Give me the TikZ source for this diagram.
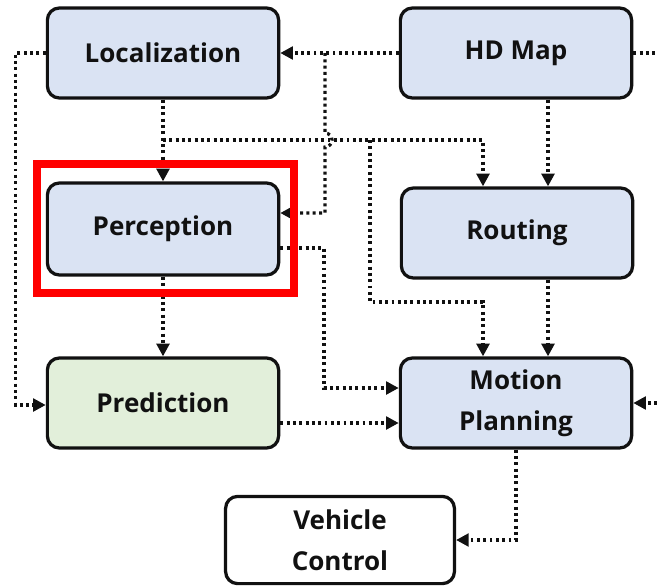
\documentclass[tikz,border=0pt]{standalone}
\usepackage{fontspec}
\setmainfont{Open Sans}
\usepackage{tikz}
\usepackage{xcolor}
\usetikzlibrary{arrows.meta,positioning,calc}
\definecolor{ink}{HTML}{111111}
\definecolor{modblue}{HTML}{DAE3F3}
\definecolor{modgreen}{HTML}{E2EFDA}
\definecolor{focus}{HTML}{FF0000}
\tikzset{
  module/.style={draw=ink, fill=modblue, rounded corners=0.3cm, line width=2.3pt,
                 align=center, inner sep=0pt, minimum width=5.78cm, minimum height=2.25cm,
                 font=\fontsize{18.5}{29}\selectfont\bfseries, text=ink},
  link/.style={draw=ink, line width=2.3pt, dash pattern=on 2.1pt off 2.4pt},
  flow/.style={link, -{Triangle[length=9pt,width=9pt]}}
}
\begin{document}
\begin{tikzpicture}[x=0.025cm,y=-0.025cm]
        \useasboundingbox (0,0) rectangle (657,586);
        \node[module] (loc) at (163,53) {Localization};
        \node[module] (hdmap) at (516,53) {HD Map};
        \node[module,minimum height=2.3cm] (perc) at (163,229) {Perception};
        \node[module] (rout) at (517,233) {Routing};
        \node[module,fill=modgreen] (pred) at (163,403) {Prediction};
        \node[module] (plan) at (516,403) {Motion\\Planning};
        \node[module,fill=white,minimum width=5.72cm,minimum height=2.18cm] (veh) at (340,540) {Vehicle\\Control};

        \coordinate (mapout) at (657,53);
        \coordinate (planin) at (657,403);
        \coordinate (bus) at (163,140);
        \coordinate (tap) at (370,140);

        % localization
        \draw[flow] (loc.west) -- ++(-30,0) |- ([yshift=-0.05cm]pred.west);
        \foreach \a/\b in {loc/perc,perc/pred} {\draw[flow] (\a.south) -- (\b.north);}
        \draw[flow] (bus) -| ($(rout.north)+(-34,0)$);
        \draw[flow] (tap) |- (440,302) -| ($(plan.north)+(-33,0)$);

        % hd map
        \draw[flow] (hdmap.west) -- (loc.east);
        \draw[flow] (325,53) -- (325,133) arc[start angle=-90,end angle=90,radius=7]
                    -- (325,213) -- ($(perc.east)+(0,-16)$);
        \draw[flow] ($(hdmap.south)+(32,0)$) -- ($(rout.north)+(31,0)$);
        \draw[link] (hdmap.east) -- (mapout);
        \draw[flow] (planin) -- (plan.east);

        % perception / prediction / routing
        \draw[flow] ($(perc.east)+(0,19)$) -| (324,388) -- ($(plan.west)+(0,-15)$);
        \draw[flow] ($(pred.east)+(0,20)$) -- ($(plan.west)+(0,20)$);
        \draw[flow] ($(rout.south)+(31,0)$) -- ($(plan.north)+(32,0)$);
        \draw[flow] (plan.south) |- (veh.east);

        \draw[focus,line width=5pt] (37,164) rectangle (294,293);
      \end{tikzpicture}
\end{document}
